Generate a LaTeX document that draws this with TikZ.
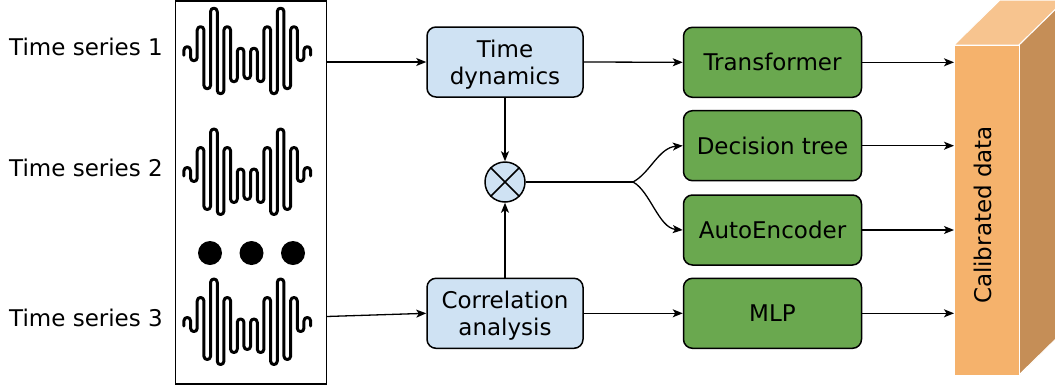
\documentclass[tikz,border=0pt]{standalone}
\usepackage{fontspec}
\setmainfont{DejaVu Sans}
\usetikzlibrary{arrows.meta}
\definecolor{boxblue}{HTML}{CFE2F3}
\definecolor{boxgreen}{HTML}{6AA84F}
\definecolor{cubefront}{HTML}{F5B26C}
\definecolor{cubetop}{HTML}{F7C48F}
\definecolor{cubeside}{HTML}{C58E57}

% one oscillating signal trace, centred vertically on #1:
% vertical strokes joined by half-circle turns (index/turn end/control height)
\newcommand\serieswave[1]{%
  \draw[series, shift={(0.5,#1)}] (183.4,4)
    \foreach \i/\e/\c in {0/-1.17/-5.61, 1/6.17/10.61, 2/-21.17/-25.61,
      3/34.17/38.61, 4/-39.67/-44.11, 5/39.17/43.61, 6/-21.17/-25.61,
      7/27.17/31.61, 8/0.33/-4.11, 9/24.17/28.61, 10/0.33/-4.11,
      11/27.17/31.61, 12/-21.17/-25.61, 13/39.17/43.61, 14/-39.67/-44.11,
      15/34.17/38.61, 16/-21.17/-25.61, 17/6.17/10.61, 18/-1.17/-5.61}
    { -- ({183.4+6.67*\i},\e)
      .. controls ({183.4+6.67*\i},\c) and ({190.07+6.67*\i},\c)
      .. ({190.07+6.67*\i},\e) }
    -- (310.13,4);}

\begin{document}
\begin{tikzpicture}[x=1pt, y=-1pt,
  font=\fontsize{23}{27}\selectfont,
  stage/.style={draw=black, line width=1.5pt, rounded corners=9pt,
    minimum height=70pt, align=center, inner sep=0pt},
  prep/.style={stage, fill=boxblue, minimum width=156pt, text depth=0pt},
  model/.style={stage, fill=boxgreen, minimum width=178pt},
  flow/.style={line width=1.3pt, -{Stealth[length=10pt, width=8pt, inset=2.5pt]}},
  link/.style={line width=1.3pt},
  series/.style={draw=black, line width=3pt, line cap=round, line join=round},
  tslabel/.style={inner sep=0pt}
]
\useasboundingbox (0,0) rectangle (1055,389);

% input labels
\node[tslabel] (ts1) at (86,47) {Time series 1};
\node[tslabel] (ts2) at (86,168) {Time series 2};
\node[tslabel] (ts3) at (86,318) {Time series 3};

% panel holding the raw signals
\node[draw=black, line width=1.2pt, minimum width=151pt, minimum height=383pt,
  inner sep=0pt] (panel) at (251,192.5) {};
\serieswave{51.2}
\serieswave{172}
\serieswave{322}
\fill (210,253) circle[radius=12pt];
\fill (251.5,253) circle[radius=12pt];
\fill (293,253) circle[radius=12pt];
\coordinate (out3) at (326.5,316.5);

% feature extraction
\node[prep] (dyn) at (505,62) {Time\\dynamics};
\node[prep] (corr) at (505,313.3) {Correlation\\analysis};
\node[draw=black, circle, fill=boxblue, line width=1.5pt, minimum size=40pt,
  inner sep=0pt] (mix) at (505,182) {};
\draw[line width=1.5pt] (mix.north west) -- (mix.south east)
  (mix.north east) -- (mix.south west);
\coordinate (split) at (633,182);

% models
\node[model] (tf) at (772.5,62.3) {Transformer};
\node[model] (dt) at (772.5,145.7) {Decision tree};
\node[model] (ae) at (772.5,230) {AutoEncoder};
\node[model] (mlp) at (772.5,313.3) {MLP};

% output block drawn as a cube
\begin{scope}
\clip (0,0) rectangle (1055,389);
\fill[cubetop, draw=white, line width=1pt] (954,45) -- (1000,0) -- (1065,0) -- (1019,45) -- cycle;
\fill[cubeside, draw=white, line width=1pt] (1019,45) -- (1065,0) -- (1065,330) -- (1019,375) -- cycle;
\end{scope}
\node[fill=cubefront, draw=white, line width=1pt, minimum width=65pt,
  minimum height=330pt, inner sep=0pt, outer sep=0pt] (calib) at (986.5,210) {};
\node[rotate=90, inner sep=0pt] (calibtxt) at (983,215) {Calibrated data};

% connectors
\draw[flow] (panel.east |- dyn.west) -- (dyn.west);
\draw[flow] (out3) -- (corr.west);
\draw[flow] (dyn.east) -- (tf.west);
\draw[flow] (corr.east) -- (mlp.west);
\draw[flow] (dyn.south) -- (mix.north);
\draw[flow] (corr.north) -- (mix.south);
\draw[link] (mix.east) -- (split);
\draw[flow] (split) .. controls +(17,-9) and +(-24,2) .. (dt.west);
\draw[flow] (split) .. controls +(17,9) and +(-24,-2) .. (ae.west);
\draw[flow] (tf.east) -- (tf.east -| calib.west);
\draw[flow] (dt.east) -- (dt.east -| calib.west);
\draw[flow] (ae.east) -- (ae.east -| calib.west);
\draw[flow] (mlp.east) -- (mlp.east -| calib.west);
\end{tikzpicture}
\end{document}
